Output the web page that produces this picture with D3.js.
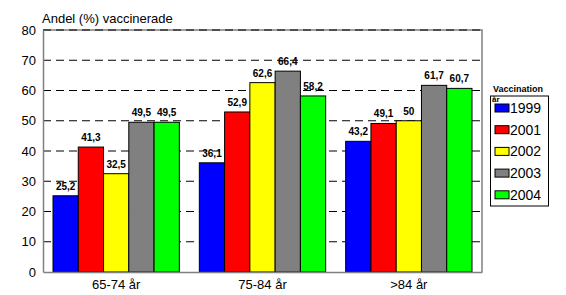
<!DOCTYPE html>
<html>
<head>
<meta charset="utf-8">
<script src="https://cdn.jsdelivr.net/npm/d3@7"></script>
<style>
  html,body{margin:0;padding:0;background:#fff;}
  svg{display:block;font-family:Arial,"Liberation Sans",sans-serif;}
</style>
</head>
<body>
<svg id="chart" width="566" height="295"></svg>
<script>
const groups = ['65-74 år','75-84 år','>84 år'];
const years  = ['1999','2001','2002','2003','2004'];
const colors = ['#0000ff','#ff0000','#ffff00','#808080','#00ff00'];
// values[group][year]
const values = [
  [25.2, 41.3, 32.5, 49.5, 49.5],
  [36.1, 52.9, 62.6, 66.4, 58.2],
  [43.2, 49.1, 50.0, 61.7, 60.7]
];
const yTicks = [0,10,20,30,40,50,60,70,80];

const svg = d3.select('#chart');
const L=43, R=482, T=30, B=272;

const x0 = d3.scaleBand().domain(groups).range([L,R]).paddingInner(0).paddingOuter(0);
const x1 = d3.scaleBand().domain(years).range([10, x0.bandwidth()-10]).padding(0);
const y  = d3.scaleLinear().domain([0,80]).range([B,T]);
const fmt = v => String(v).replace('.',',');

// border on top/right
svg.append('path').attr('d',`M${L},${T}H${R}V${B}`).attr('fill','none').attr('stroke','#808080').attr('stroke-width',1.5);

// dashed gridlines
svg.append('g').selectAll('line').data(yTicks.filter(d=>d>0)).join('line')
  .attr('x1',L).attr('x2',R).attr('y1',d=>y(d)).attr('y2',d=>y(d))
  .attr('stroke','#000').attr('stroke-width',1).attr('stroke-dasharray','8,5');

// bars
const g = svg.append('g').selectAll('g').data(groups).join('g')
  .attr('transform',d=>`translate(${x0(d)},0)`);
g.selectAll('rect').data((d,i)=>values[i].map((v,j)=>({v,yr:years[j],c:colors[j]}))).join('rect')
  .attr('x',d=>x1(d.yr)).attr('width',x1.bandwidth())
  .attr('y',d=>y(d.v)).attr('height',d=>B-y(d.v))
  .attr('fill',d=>d.c).attr('stroke','#000').attr('stroke-width',1);
g.selectAll('text').data((d,i)=>values[i].map((v,j)=>({v,yr:years[j]}))).join('text')
  .attr('x',d=>x1(d.yr)+x1.bandwidth()/2).attr('y',d=>y(d.v)-6)
  .attr('text-anchor','middle').attr('font-size',10).attr('font-weight','bold')
  .text(d=>fmt(d.v));

// y axis
const ya = svg.append('g').attr('transform',`translate(${L},0)`)
  .call(d3.axisLeft(y).tickValues(yTicks).tickSize(0).tickPadding(7));
ya.select('.domain').attr('stroke','#808080').attr('stroke-width',1.5);
ya.selectAll('text').attr('font-size',13).attr('font-family','Arial,"Liberation Sans",sans-serif').attr('fill','#000');

// x axis
const xa = svg.append('g').attr('transform',`translate(0,${B})`)
  .call(d3.axisBottom(x0).tickSize(0).tickPadding(8));
xa.select('.domain').attr('stroke','#808080').attr('stroke-width',1.5);
xa.selectAll('text').attr('font-size',13).attr('font-family','Arial,"Liberation Sans",sans-serif').attr('fill','#000');

// title
svg.append('text').attr('x',42).attr('y',23).attr('font-size',13).text('Andel (%) vaccinerade');

// legend
const lg = svg.append('g');
lg.append('text').attr('x',493).attr('y',92).attr('font-size',9).attr('font-weight','bold').text('Vaccination');
lg.append('rect').attr('x',490.5).attr('y',96).attr('width',58).attr('height',110)
  .attr('fill','#fff').attr('stroke','#000').attr('stroke-width',1);
lg.append('text').attr('x',492).attr('y',102).attr('font-size',8).attr('font-weight','bold').text('år');
const li = lg.selectAll('g.item').data(years).join('g').attr('class','item')
  .attr('transform',(d,i)=>`translate(495,${104+i*21.7})`);
li.append('rect').attr('width',14).attr('height',8)
  .attr('fill',(d,i)=>colors[i]).attr('stroke','#000').attr('stroke-width',1);
li.append('text').attr('x',15).attr('y',9).attr('font-size',14).text(d=>d);
</script>
</body>
</html>
